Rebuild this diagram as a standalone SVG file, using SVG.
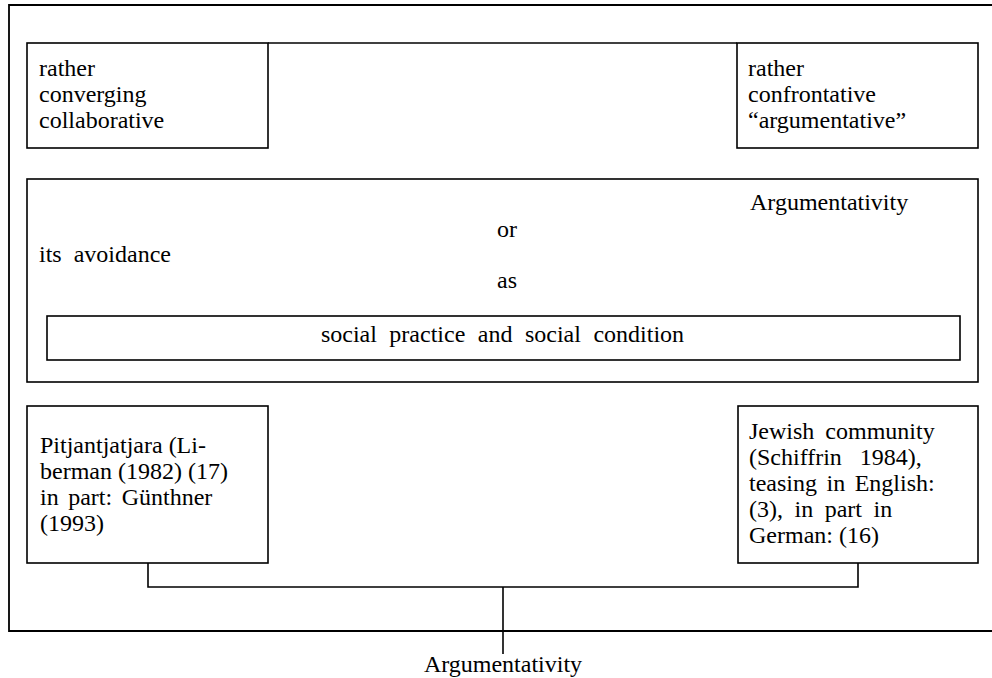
<svg xmlns="http://www.w3.org/2000/svg" width="992" height="678" viewBox="0 0 992 678">
<style>
  .box { fill: none; stroke: #000; stroke-width: 1.6; }
  .frame { fill: none; stroke: #000; stroke-width: 1.8; }
  .conn { fill: none; stroke: #000; stroke-width: 1.6; }
  text { font-family: "Liberation Serif", "Times New Roman", serif; font-size: 24px; fill: #000; }
</style>
<rect width="992" height="678" fill="#fff"/>
<g id="frame">
  <path class="frame" d="M 995 5 H 9 V 631 H 995"/>
</g>
<g id="connectors">
  <line class="conn" x1="268" y1="43" x2="737" y2="43"/>
  <path class="conn" d="M 148 563 V 587 H 858 V 563"/>
  <line class="conn" x1="503" y1="587" x2="503" y2="654"/>
</g>
<g id="node-converging">
  <rect class="box" x="27" y="43" width="241" height="105"/>
  <text x="39" y="76">rather</text>
  <text x="39" y="102">converging</text>
  <text x="39" y="128">collaborative</text>
</g>
<g id="node-confrontative">
  <rect class="box" x="737" y="43" width="241" height="105"/>
  <text x="748" y="76">rather</text>
  <text x="748" y="102">confrontative</text>
  <text x="748" y="128">“argumentative”</text>
</g>
<g id="node-argumentativity">
  <rect class="box" x="27" y="179" width="951" height="203"/>
  <text x="750" y="210">Argumentativity</text>
  <text x="507" y="237" text-anchor="middle">or</text>
  <text x="39" y="262" word-spacing="6">its avoidance</text>
  <text x="507" y="288" text-anchor="middle">as</text>
</g>
<g id="node-social">
  <rect class="box" x="47" y="316" width="913" height="44"/>
  <text x="502.5" y="342" text-anchor="middle" word-spacing="6.5">social practice and social condition</text>
</g>
<g id="node-pitjantjatjara">
  <rect class="box" x="27" y="406" width="241" height="157"/>
  <text x="40" y="453">Pitjantjatjara (Li-</text>
  <text x="40" y="479">berman (1982) (17)</text>
  <text x="40" y="505" word-spacing="3.5">in part: Günthner</text>
  <text x="40" y="531">(1993)</text>
</g>
<g id="node-jewish">
  <rect class="box" x="738" y="406" width="240" height="157"/>
  <text x="749" y="439" word-spacing="5">Jewish community</text>
  <text x="749" y="465" word-spacing="12">(Schiffrin 1984),</text>
  <text x="749" y="491" word-spacing="3.5">teasing in English:</text>
  <text x="749" y="517" word-spacing="5.5">(3), in part in</text>
  <text x="749" y="543">German: (16)</text>
</g>
<g id="node-bottom-label">
  <text x="503" y="672" text-anchor="middle">Argumentativity</text>
</g>
</svg>
